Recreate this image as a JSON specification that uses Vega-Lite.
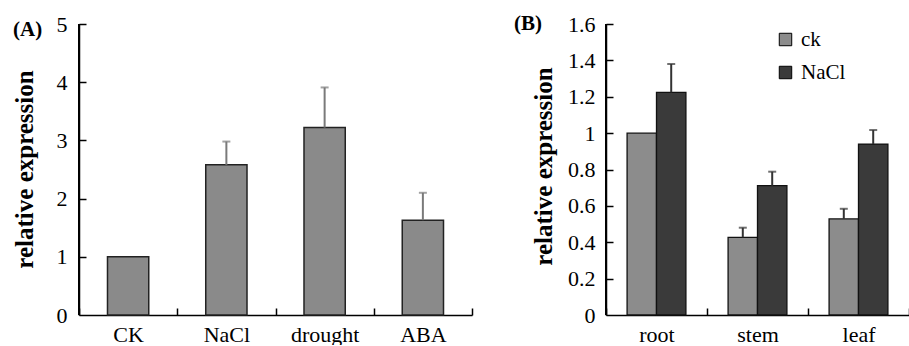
{
  "$schema": "https://vega.github.io/schema/vega-lite/v6.json",
  "padding": {"left": 12, "top": 13, "right": 0, "bottom": 0},
  "bounds": "flush",
  "spacing": 134,
  "datasets": {
    "a": [
      {"cat": "CK", "val": 1.0, "hi": null},
      {"cat": "NaCl", "val": 2.58, "hi": 2.98},
      {"cat": "drought", "val": 3.22, "hi": 3.91},
      {"cat": "ABA", "val": 1.63, "hi": 2.10}
    ],
    "b": [
      {"tissue": "root", "group": "ck", "val": 1.0, "hi": null},
      {"tissue": "root", "group": "NaCl", "val": 1.224, "hi": 1.38},
      {"tissue": "stem", "group": "ck", "val": 0.427, "hi": 0.48},
      {"tissue": "stem", "group": "NaCl", "val": 0.711, "hi": 0.788},
      {"tissue": "leaf", "group": "ck", "val": 0.528, "hi": 0.584},
      {"tissue": "leaf", "group": "NaCl", "val": 0.94, "hi": 1.017}
    ]
  },
  "config": {
    "font": "Liberation Serif, serif",
    "view": {"stroke": null},
    "axis": {
      "domainColor": "#000",
      "domainWidth": 1.5,
      "tickColor": "#000",
      "tickWidth": 1.5,
      "tickSize": 0,
      "labelFont": "Liberation Serif, serif",
      "labelFontSize": 22,
      "labelColor": "#000",
      "labelOverlap": false,
      "titleFont": "Liberation Serif, serif",
      "titleFontSize": 25,
      "titleFontWeight": "bold",
      "titleColor": "#000",
      "grid": false
    }
  },
  "hconcat": [
    {
      "width": 393,
      "height": 291,
      "title": {"text": "(A)", "anchor": "start", "frame": "group", "orient": "top", "offset": 0, "dx": -66, "dy": 38, "fontSize": 21, "fontWeight": "bold", "font": "Liberation Serif, serif", "baseline": "middle", "color": "#000"},
      "data": {"name": "a"},
      "resolve": {"axis": {"x": "independent", "y": "independent"}},
      "layer": [
        {
          "mark": {"type": "bar", "width": {"band": 0.42}, "fill": "#8a8a8a", "stroke": "#222", "strokeWidth": 1.5},
          "encoding": {
            "x": {"field": "cat", "type": "nominal", "sort": ["CK", "NaCl", "drought", "ABA"], "scale": {"domain": ["CK", "NaCl", "drought", "ABA"], "paddingInner": 0, "paddingOuter": 0},
              "axis": {"orient": "bottom", "domain": true, "title": null, "labelAngle": 0, "tickBand": "extent", "labelPadding": 9}},
            "y": {"field": "val", "type": "quantitative", "scale": {"domain": [0, 5], "nice": false},
              "axis": {"orient": "left", "domain": true, "zindex": 1, "values": [0, 1, 2, 3, 4, 5], "format": "~g", "title": "relative expression", "titleX": -55, "titleY": 145, "titleAlign": "center", "titleBaseline": "middle", "titleAngle": -90, "labelPadding": 12}}
          }
        },
        {
          "mark": {"type": "rule", "color": "#000", "strokeWidth": 1.5},
          "encoding": {
            "x": {"datum": "CK", "type": "nominal", "bandPosition": 0, "axis": null}
          }
        },
        {
          "transform": [{"filter": "datum.hi != null"}],
          "mark": {"type": "rule", "color": "#7a7a7a", "strokeWidth": 2},
          "encoding": {
            "x": {"field": "cat", "type": "nominal",
              "axis": {"orient": "bottom", "title": null, "labels": false, "domain": false, "tickBand": "extent", "tickSize": 7, "offset": -7}},
            "y": {"field": "val", "type": "quantitative",
              "axis": {"orient": "left", "title": null, "labels": false, "domain": false, "values": [1, 2, 3, 4, 5], "tickSize": 7, "offset": -7}},
            "y2": {"field": "hi"}
          }
        },
        {
          "transform": [{"filter": "datum.hi != null"}],
          "mark": {"type": "tick", "color": "#7a7a7a", "size": 8, "thickness": 2},
          "encoding": {
            "x": {"field": "cat", "type": "nominal", "axis": null},
            "y": {"field": "hi", "type": "quantitative", "axis": null}
          }
        }
      ]
    },
    {
      "width": 303,
      "height": 291,
      "title": {"text": "(B)", "anchor": "start", "frame": "group", "orient": "top", "offset": 0, "dx": -92, "dy": 32, "fontSize": 21, "fontWeight": "bold", "font": "Liberation Serif, serif", "baseline": "middle", "color": "#000"},
      "data": {"name": "b"},
      "resolve": {"axis": {"x": "independent", "y": "independent"}},
      "layer": [
        {
          "mark": {"type": "bar", "stroke": "#111", "strokeWidth": 1.3},
          "encoding": {
            "x": {"field": "tissue", "type": "nominal", "sort": ["root", "stem", "leaf"], "scale": {"domain": ["root", "stem", "leaf"], "paddingInner": 0, "paddingOuter": 0},
              "axis": {"orient": "bottom", "domain": true, "title": null, "labelAngle": 0, "tickBand": "extent", "labelPadding": 9}},
            "xOffset": {"field": "group", "type": "nominal", "sort": ["ck", "NaCl"], "scale": {"domain": ["ck", "NaCl"], "paddingInner": 0, "paddingOuter": 0.717}},
            "y": {"field": "val", "type": "quantitative", "scale": {"domain": [0, 1.6], "nice": false},
              "axis": {"orient": "left", "domain": true, "zindex": 1, "values": [0, 0.2, 0.4, 0.6, 0.8, 1, 1.2, 1.4, 1.6], "format": "~g", "title": "relative expression", "titleX": -63, "titleY": 142, "titleAlign": "center", "titleBaseline": "middle", "titleAngle": -90, "labelPadding": 11}},
            "color": {"field": "group", "type": "nominal", "scale": {"domain": ["ck", "NaCl"], "range": ["#8c8c8c", "#3a3a3a"]},
              "legend": {"title": null, "orient": "none", "legendX": 696, "legendY": 5, "symbolType": "square", "symbolSize": 155, "symbolStrokeColor": "#000", "symbolStrokeWidth": 1, "symbolOpacity": 1, "labelFont": "Liberation Serif, serif", "labelFontSize": 21, "labelColor": "#000", "rowPadding": 11, "labelOffset": 5}}
          }
        },
        {
          "mark": {"type": "rule", "color": "#000", "strokeWidth": 1.5},
          "encoding": {
            "x": {"datum": "root", "type": "nominal", "bandPosition": 0, "axis": null}
          }
        },
        {
          "transform": [{"filter": "datum.hi != null"}],
          "mark": {"type": "rule", "color": "#333", "strokeWidth": 2},
          "encoding": {
            "x": {"field": "tissue", "type": "nominal",
              "axis": {"orient": "bottom", "title": null, "labels": false, "domain": false, "tickBand": "extent", "tickSize": 7, "offset": -7}},
            "xOffset": {"field": "group", "type": "nominal"},
            "y": {"field": "val", "type": "quantitative",
              "axis": {"orient": "left", "title": null, "labels": false, "domain": false, "values": [0.2, 0.4, 0.6, 0.8, 1, 1.2, 1.4, 1.6], "tickSize": 7, "offset": -7}},
            "y2": {"field": "hi"}
          }
        },
        {
          "transform": [{"filter": "datum.hi != null"}],
          "mark": {"type": "tick", "color": "#333", "size": 8, "thickness": 2},
          "encoding": {
            "x": {"field": "tissue", "type": "nominal", "axis": null},
            "xOffset": {"field": "group", "type": "nominal"},
            "y": {"field": "hi", "type": "quantitative", "axis": null}
          }
        }
      ]
    }
  ]
}
